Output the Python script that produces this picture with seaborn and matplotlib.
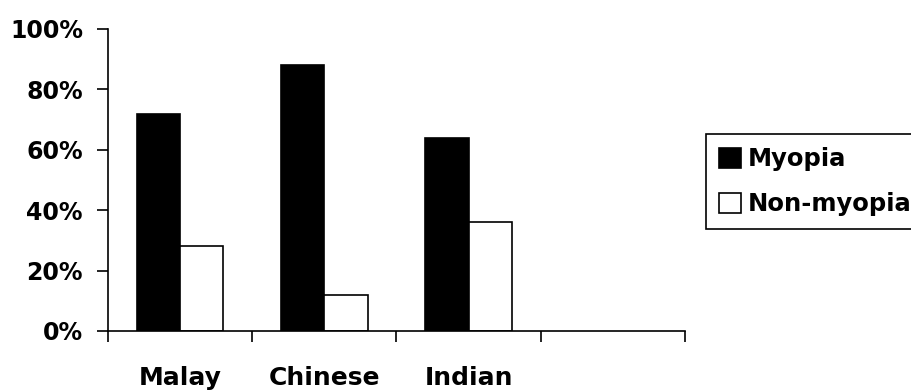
import matplotlib
matplotlib.use("Agg")
import matplotlib.pyplot as plt
from matplotlib.patches import Patch
import pandas as pd
import seaborn as sns

# values (percent)
groups = ["Malay", "Chinese", "Indian"]
myopia = [72, 88, 64]
non_myopia = [28, 12, 36]
series_names = ["Myopia", "Non-myopia"]
series_colors = ["black", "white"]
y_ticks = [0, 20, 40, 60, 80, 100]
n_slots = 4  # the original leaves an empty fourth slot on the axis

sns.set_style("ticks")
plt.rcParams["font.family"] = ["DejaVu Sans"]
plt.rcParams["font.weight"] = "bold"
plt.rcParams["text.color"] = "black"
plt.rcParams["xtick.color"] = "black"
plt.rcParams["ytick.color"] = "black"

df = pd.DataFrame({
    "group": groups * 2,
    "series": [series_names[0]] * len(groups) + [series_names[1]] * len(groups),
    "value": myopia + non_myopia,
})

fig = plt.figure(figsize=(9.12, 3.91), dpi=100)
ax = fig.add_axes([108 / 912, 1 - 331 / 391, 577 / 912, 302 / 391])

sns.barplot(
    data=df, x="group", y="value", hue="series", order=groups,
    hue_order=series_names, palette=dict(zip(series_names, series_colors)),
    width=0.6, edgecolor="black", linewidth=1.2, saturation=1,
    legend=False, ax=ax,
)

ax.set_xlim(-0.5, n_slots - 0.5)
ax.set_ylim(0, 100)
ax.set_xlabel("")
ax.set_ylabel("")

ax.set_yticks(y_ticks)
ax.set_yticklabels([f"{v}%" for v in y_ticks], fontsize=17, fontweight="bold", color="black")
ax.tick_params(axis="y", direction="out", length=8, width=1.2, pad=10, colors="black")

ax.set_xticks(range(len(groups)))
ax.set_xticklabels(groups, fontsize=18, fontweight="bold", color="black")
ax.set_xticks([i - 0.5 for i in range(n_slots + 1)], minor=True)
ax.tick_params(axis="x", which="major", length=0, pad=25)
ax.tick_params(axis="x", which="minor", direction="out", length=8, width=1.2, color="black")

sns.despine(ax=ax)
for side in ["left", "bottom"]:
    ax.spines[side].set_linewidth(1.2)
    ax.spines[side].set_color("black")

handles = [Patch(facecolor=c, edgecolor="black", linewidth=1.2) for c in series_colors]
leg = ax.legend(
    handles, series_names, loc="upper left",
    bbox_to_anchor=(706 / 912, 1 - 134 / 391), bbox_transform=fig.transFigure,
    borderaxespad=0, fancybox=False, frameon=True, edgecolor="black",
    prop={"size": 17.5, "weight": "bold"}, handlelength=0.88, handleheight=0.88,
    handletextpad=0.3, labelspacing=0.85, borderpad=0.55,
)
for t in leg.get_texts():
    t.set_color("black")
leg.get_frame().set_linewidth(1.2)
leg.get_frame().set_alpha(1)

fig.savefig("out.png", dpi=100)
